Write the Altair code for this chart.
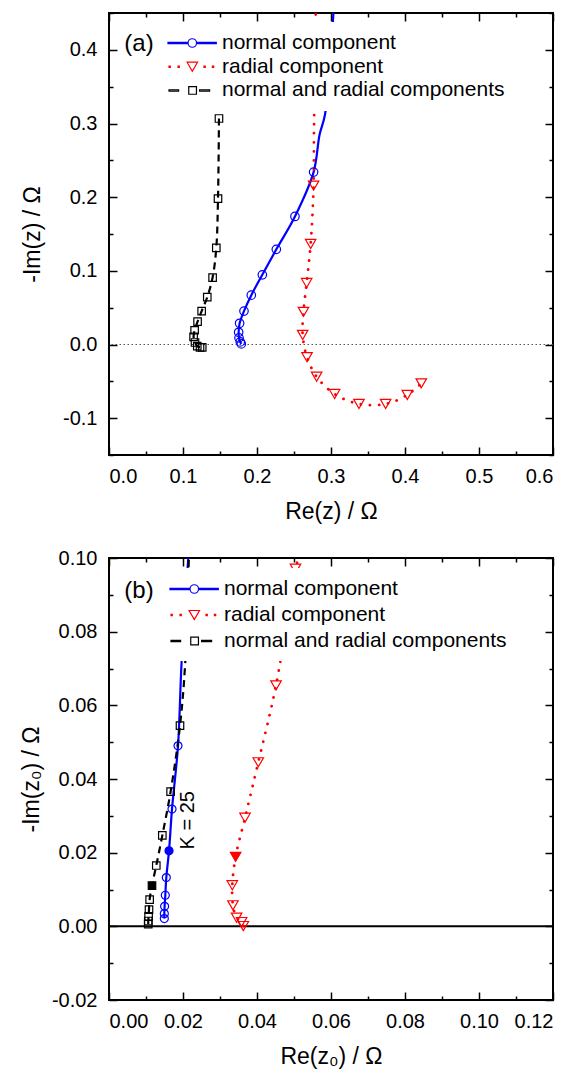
import altair as alt
import pandas as pd

FONT = "Liberation Sans"

SERIES = ["normal component", "radial component", "normal and radial components"]
COLORS = ["#0000ff", "#ff0000", "#000000"]

# ---------------- panel (a) ----------------
a_normal_x = [0.1788, 0.1774, 0.1757, 0.1752, 0.1765, 0.1824, 0.1923, 0.2072, 0.2261, 0.2513, 0.2765]
a_normal_y = [0.0008, 0.0035, 0.0089, 0.0166, 0.0288, 0.0454, 0.0670, 0.0946, 0.1292, 0.1738, 0.2340]
a_normal_ext_x = [0.2846, 0.2919, 0.3031, 0.3036]
a_normal_ext_y = [0.2851, 0.3122, 0.4473, 0.4600]

a_radial_ext_x = [0.2795, 0.2785, 0.2770]
a_radial_ext_y = [0.4600, 0.3800, 0.2900]
a_radial_x = [0.2765, 0.2725, 0.2671, 0.2628, 0.2617, 0.2676, 0.2806, 0.3049, 0.3378, 0.3738, 0.4031, 0.4220]
a_radial_y = [0.2157, 0.1365, 0.0835, 0.0443, 0.0130, -0.0172, -0.0437, -0.0672, -0.0807, -0.0807, -0.0685, -0.0527]

a_both_x = [0.1486, 0.1473, 0.1450, 0.1400, 0.1328, 0.1252, 0.1197, 0.1157, 0.1143, 0.1162, 0.1193, 0.1230, 0.1260]
a_both_y = [0.3068, 0.1981, 0.1311, 0.0909, 0.0643, 0.0454, 0.0311, 0.0193, 0.0103, 0.0027, -0.0023, -0.0040, -0.0040]

# ---------------- panel (b) ----------------
b_normal_x = [0.01495, 0.01495, 0.01503, 0.01522, 0.01549, 0.01622, 0.01703, 0.01865]
b_normal_y = [0.0021, 0.00345, 0.00544, 0.00844, 0.01325, 0.0205, 0.03184, 0.0490]
b_normal_ext_x = [0.01963, 0.0215]
b_normal_ext_y = [0.0719, 0.1010]

b_radial_x = [0.0363, 0.03584, 0.03449, 0.0335, 0.03332, 0.03423, 0.03676, 0.04035, 0.04514, 0.0504]
b_radial_y = [0.00008, 0.00117, 0.00236, 0.00571, 0.01116, 0.01887, 0.02948, 0.04454, 0.0654, 0.0971]
b_radial_ext_x = [0.0516]
b_radial_ext_y = [0.1010]

b_both_x = [0.0106, 0.01062, 0.0107, 0.01081, 0.01098, 0.01162, 0.01278, 0.01441, 0.01665, 0.01919]
b_both_y = [0.0006, 0.00145, 0.00272, 0.00454, 0.00726, 0.01107, 0.01651, 0.02468, 0.03655, 0.0545]
b_both_ext_x = [0.0206, 0.0216]
b_both_ext_y = [0.0716, 0.1010]

b_k25_index = 5  # the filled (K = 25) point in each series of panel (b)

# annotations
a_label = ["(a)"]
a_label_x = [0.0405]
a_label_y = [0.408]
b_label = ["(b)"]
b_label_x = [0.0081]
b_label_y = [0.0910]
k_label = ["K = 25"]
k_label_x = [0.02143]
k_label_y = [0.0288]

# axis ticks
a_x_major = [0.0, 0.1, 0.2, 0.3, 0.4, 0.5, 0.6]
a_x_minor = [0.05, 0.15, 0.25, 0.35, 0.45, 0.55]
a_y_major = [-0.1, 0.0, 0.1, 0.2, 0.3, 0.4]
a_y_minor = [-0.15, -0.05, 0.05, 0.15, 0.25, 0.35, 0.45]
b_x_major = [0.0, 0.02, 0.04, 0.06, 0.08, 0.10, 0.12]
b_x_minor = [0.01, 0.03, 0.05, 0.07, 0.09, 0.11]
b_y_major = [-0.02, 0.0, 0.02, 0.04, 0.06, 0.08, 0.10]
b_y_minor = [-0.01, 0.01, 0.03, 0.05, 0.07, 0.09]
zero_line = [0.0]


def rect(x0, x1, h):
    return f"M{x0},{-h}L{x1},{-h}L{x1},{h}L{x0},{h}Z"


# legend symbols (line + marker) as SVG paths; unit = 10 px, symbol centre 11 px from entry left
P_NORMAL = (rect(-1.1, 0.89, 0.06) + rect(1.77, 3.73, 0.06)
            + "M1.755,0A0.425,0.425,0,1,1,0.905,0A0.425,0.425,0,1,1,1.755,0Z")
P_RADIAL = (rect(-1.0, -0.87, 0.065) + rect(-0.1, 0.03, 0.065)
            + rect(2.5, 2.63, 0.065) + rect(3.34, 3.47, 0.065)
            + "M0.81,-0.45L1.85,-0.45L1.33,0.45Z")
P_BOTH = (rect(-1.0, -0.04, 0.065) + rect(2.06, 3.06, 0.065)
          + "M0.975,-0.385L1.745,-0.385L1.745,0.385L0.975,0.385Z")
PATHS = [P_NORMAL, P_RADIAL, P_BOTH]

MINUS_FIX = "replace(datum.label, '\u2212', '-')"


def frame(xs, ys):
    n = len(xs)
    return pd.DataFrame({"x": xs, "y": ys, "i": list(range(n))})


def build_panel(W, H, xdom, ydom, lines, markers, filled, texts,
                xmaj, xmin, ymaj, ymin, xfmt, yfmt, xtitle, ytitle,
                ytitle_pad, zero_style, legend_xy, legend_rowpad):
    xs = alt.Scale(domain=xdom, nice=False, zero=False)
    ys = alt.Scale(domain=ydom, nice=False, zero=False)

    def X(axis=None):
        return alt.X("x:Q", scale=xs, axis=axis)

    def Y(axis=None):
        return alt.Y("y:Q", scale=ys, axis=axis)

    layers = []
    zdf = pd.DataFrame({"y": zero_line})
    layers.append(alt.Chart(zdf).mark_rule(**zero_style).encode(y=Y()))

    for (lx, ly, style) in lines:
        layers.append(
            alt.Chart(frame(lx, ly)).mark_line(clip=True, interpolate="catmull-rom", **style)
            .encode(x=X(), y=Y(), order=alt.Order("i:Q"))
        )
    for (mx, my, style) in markers:
        layers.append(
            alt.Chart(frame(mx, my)).mark_point(clip=True, opacity=1, filled=False, **style)
            .encode(x=X(), y=Y())
        )
    for (mx, my, style) in filled:
        layers.append(
            alt.Chart(frame(mx, my)).mark_point(clip=True, opacity=1, filled=True, **style)
            .encode(x=X(), y=Y())
        )
    for (t, tx, ty, style) in texts:
        tdf = pd.DataFrame({"t": t, "x": tx, "y": ty})
        layers.append(
            alt.Chart(tdf).mark_text(font=FONT, color="black", **style)
            .encode(x=X(), y=Y(), text="t:N")
        )

    all_pts = pd.concat([
        pd.DataFrame({"x": m[0], "y": m[1], "series": s}) for m, s in zip(markers, SERIES)
    ])
    leg = alt.Legend(title=None, orient="none", legendX=legend_xy[0], legendY=legend_xy[1],
                     padding=10, fillColor="white", labelFont=FONT, labelFontSize=21,
                     labelColor="black", symbolSize=400, symbolStrokeWidth=1.2,
                     symbolOpacity=1, labelOffset=32, rowPadding=legend_rowpad, labelLimit=500)
    layers.append(
        alt.Chart(all_pts).transform_filter("datum.x > 100")
        .mark_point(strokeWidth=1.2, opacity=1, filled=False)
        .encode(
            x=X(), y=Y(),
            color=alt.Color("series:N", scale=alt.Scale(domain=SERIES, range=COLORS), legend=leg),
            shape=alt.Shape("series:N", scale=alt.Scale(domain=SERIES, range=PATHS), legend=leg),
        )
    )

    common = dict(domain=False, grid=False, tickColor="black", tickWidth=1.5,
                  labelFont=FONT, labelFontSize=20, labelColor="black",
                  titleFont=FONT, titleFontSize=23, titleFontWeight="normal", titleColor="black")
    ax_specs = [
        (alt.Axis(orient="bottom", values=xmaj, format=xfmt, labelExpr=MINUS_FIX, offset=-8, tickSize=8,
                  labelPadding=11, title=xtitle, titlePadding=14, **common),
         alt.Axis(orient="left", values=ymaj, format=yfmt, labelExpr=MINUS_FIX, offset=-8, tickSize=8,
                  labelPadding=12, title=ytitle, titlePadding=ytitle_pad, **common)),
        (alt.Axis(orient="bottom", values=xmin, labels=False, offset=-4, tickSize=4, title=None, **common),
         alt.Axis(orient="left", values=ymin, labels=False, offset=-4, tickSize=4, title=None, **common)),
        (alt.Axis(orient="top", values=xmaj, labels=False, offset=-8, tickSize=8, title=None, **common),
         alt.Axis(orient="right", values=ymaj, labels=False, offset=-8, tickSize=8, title=None, **common)),
        (alt.Axis(orient="top", values=xmin, labels=False, offset=-4, tickSize=4, title=None, **common),
         alt.Axis(orient="right", values=ymin, labels=False, offset=-4, tickSize=4, title=None, **common)),
    ]
    for axx, axy in ax_specs:
        layers.append(
            alt.Chart(all_pts).transform_filter("datum.x > 100").mark_point(opacity=0)
            .encode(x=X(axx), y=Y(axy))
        )

    return (alt.layer(*layers)
            .resolve_axis(x="independent", y="independent")
            .properties(width=W, height=H))


BLUE_LINE = dict(color="#0000ff", strokeWidth=2.2)
RED_LINE = dict(color="#ff0000", strokeWidth=2.8, strokeDash=[0.1, 9], strokeCap="round")
BLACK_LINE = dict(color="#000000", strokeWidth=2.2, strokeDash=[7, 5])

CIRC = dict(shape="circle", size=72, color="#0000ff", strokeWidth=1.2)
TRI = dict(shape="triangle-down", size=110, color="#ff0000", strokeWidth=1.2)
SQR = dict(shape="square", size=56, color="#000000", strokeWidth=1.2)

panel_a = build_panel(
    444, 442, [0.0, 0.6], [-0.15, 0.45],
    lines=[
        (a_normal_x + a_normal_ext_x, a_normal_y + a_normal_ext_y, BLUE_LINE),
        (a_radial_ext_x + a_radial_x, a_radial_ext_y + a_radial_y, RED_LINE),
        (a_both_x, a_both_y, BLACK_LINE),
    ],
    markers=[(a_normal_x, a_normal_y, CIRC), (a_radial_x, a_radial_y, TRI), (a_both_x, a_both_y, SQR)],
    filled=[],
    texts=[(a_label, a_label_x, a_label_y, dict(fontSize=24))],
    xmaj=a_x_major, xmin=a_x_minor, ymaj=a_y_major, ymin=a_y_minor,
    xfmt=".1f", yfmt=".1f", xtitle="Re(z) / \u03a9", ytitle="-Im(z) / \u03a9",
    ytitle_pad=18,
    zero_style=dict(color="#555555", strokeWidth=1, strokeDash=[1.5, 2.5]),
    legend_xy=(49, 9), legend_rowpad=2.7,
)

k = b_k25_index
panel_b = build_panel(
    444, 442, [0.0, 0.12], [-0.02, 0.10],
    lines=[
        (b_normal_x + b_normal_ext_x, b_normal_y + b_normal_ext_y, BLUE_LINE),
        (b_radial_x + b_radial_ext_x, b_radial_y + b_radial_ext_y, RED_LINE),
        (b_both_x + b_both_ext_x, b_both_y + b_both_ext_y, BLACK_LINE),
    ],
    markers=[(b_normal_x, b_normal_y, dict(CIRC, size=64)), (b_radial_x, b_radial_y, TRI),
             (b_both_x, b_both_y, SQR)],
    filled=[([b_normal_x[k]], [b_normal_y[k]], dict(CIRC, size=64)),
            ([b_radial_x[k]], [b_radial_y[k]], dict(TRI, size=120)),
            ([b_both_x[k]], [b_both_y[k]], SQR)],
    texts=[(b_label, b_label_x, b_label_y, dict(fontSize=24)),
           (k_label, k_label_x, k_label_y, dict(fontSize=20, angle=270))],
    xmaj=b_x_major, xmin=b_x_minor, ymaj=b_y_major, ymin=b_y_minor,
    xfmt=".2f", yfmt=".2f", xtitle="Re(z\u2080) / \u03a9", ytitle="-Im(z\u2080) / \u03a9",
    ytitle_pad=8,
    zero_style=dict(color="#000000", strokeWidth=2),
    legend_xy=(51, 10), legend_rowpad=5,
)

chart = (alt.vconcat(panel_a, panel_b, spacing=23)
         .resolve_scale(color="independent", shape="independent")
         .properties(padding={"left": 11, "top": 3, "right": 0, "bottom": 0})
         .configure_view(stroke="black", strokeWidth=2))

chart.save("out.html", embed_options={"renderer": "svg", "actions": False})
